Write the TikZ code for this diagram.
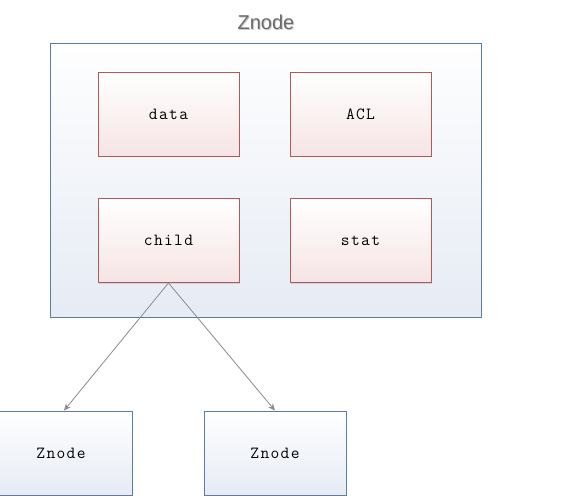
\documentclass[tikz,border=0pt]{standalone}
\usepackage{fontspec}
\setmainfont{Liberation Sans}
\newfontfamily\monoft{Latin Modern Mono}[LetterSpace=8]
\usetikzlibrary{arrows.meta,shadows}
\definecolor{redline}{HTML}{B05A58}
\definecolor{redfill}{HTML}{F6E4E4}
\definecolor{blueline}{HTML}{5A7BAE}
\definecolor{bluefill}{HTML}{E6EBF4}
\definecolor{arrowgray}{HTML}{8A8A8A}
\definecolor{titlegray}{HTML}{6A6A6A}
\tikzset{
  field/.style={draw=redline, line width=0.9pt, top color=white, bottom color=redfill,
    minimum width=141pt, minimum height=84pt, inner sep=0pt, font=\monoft\fontsize{17}{20}\selectfont,
    drop shadow={shadow xshift=1.2pt, shadow yshift=-1.2pt, opacity=0.25}},
  outer/.style={draw=blueline, line width=0.8pt, top color=white!96!bluefill, bottom color=bluefill,
    minimum width=431pt, minimum height=274pt, inner sep=0pt},
  leaf/.style={draw=blueline, line width=0.8pt, top color=white, bottom color=bluefill,
    minimum width=142pt, minimum height=84pt, inner sep=0pt, font=\monoft\fontsize{17}{20}\selectfont,
    drop shadow={shadow xshift=1.2pt, shadow yshift=-1.2pt, opacity=0.25}},
  link/.style={draw=arrowgray, line width=0.8pt, -{Stealth[length=7pt,width=6pt]}}
}
\begin{document}
\begin{tikzpicture}[x=1pt,y=-1pt]
\useasboundingbox (0,0) rectangle (583,500);
\node[outer] (zn) at (265.5,180) {};
\node[text=gray!40, font=\fontsize{20}{22}\selectfont] at (267,23) {Znode};
\node[text=titlegray, font=\fontsize{20}{22}\selectfont] (title) at (266,22) {Znode};
\node[field] (data) at (168.5,114) {data};
\node[field] (acl) at (360.5,114) {ACL};
\node[field] (child) at (168.5,240.5) {child};
\node[field] (stat) at (360.5,240.5) {stat};
\node[leaf] (z1) at (61,453) {Znode};
\node[leaf] (z2) at (275,453) {Znode};
\draw[link] (child.south) -- (z1.north -| 64,0);
\draw[link] (child.south) -- (z2.north);
\end{tikzpicture}
\end{document}
